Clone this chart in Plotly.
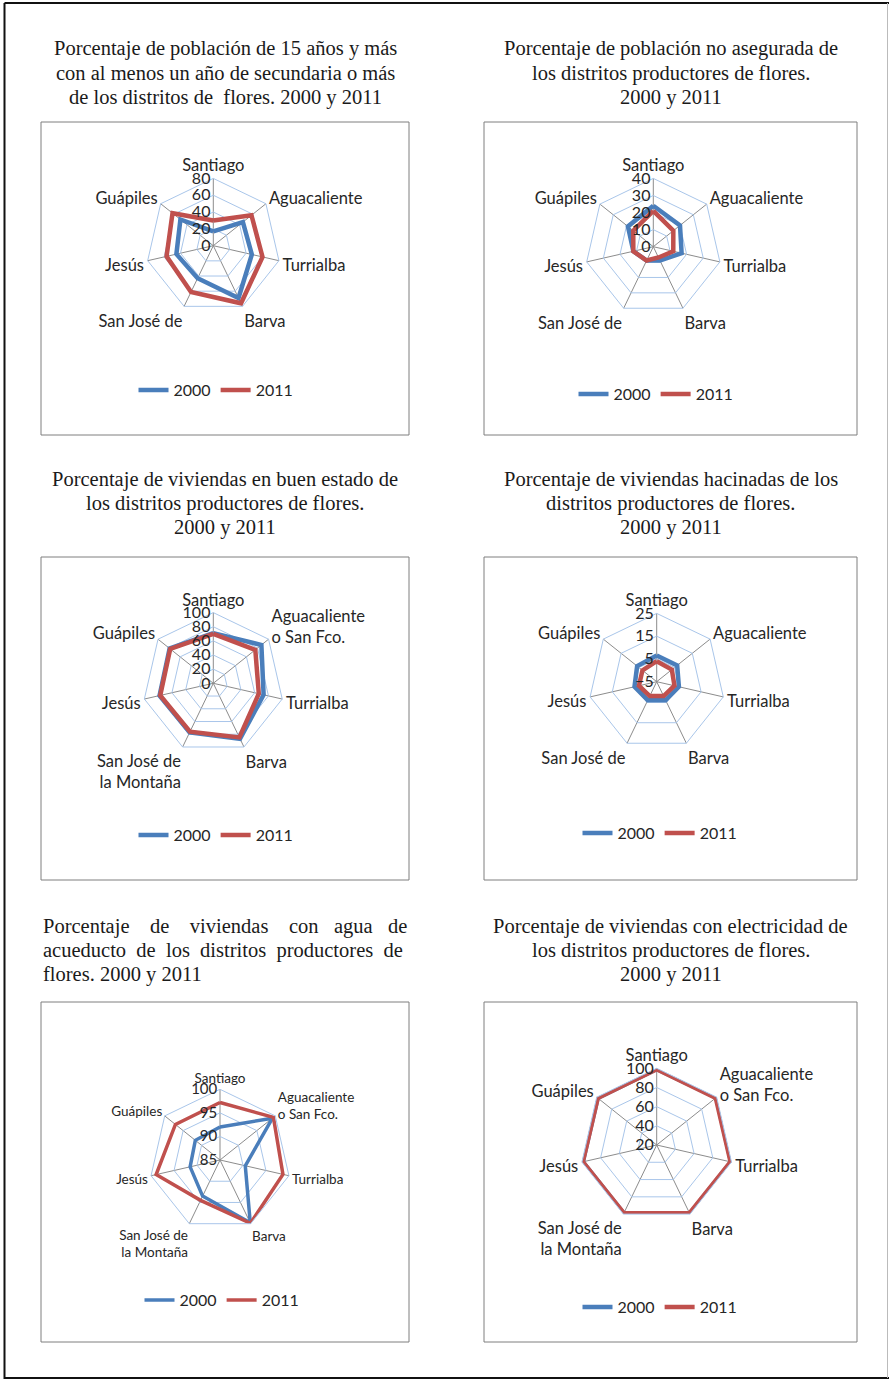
import plotly.graph_objects as go

W, H = 889, 1379

# ---------------- data ----------------
cats_short = ["Santiago", "Aguacaliente", "Turrialba", "Barva", "San José de", "Jesús", "Guápiles"]
cats_long = ["Santiago", "Aguacaliente<br>o San Fco.", "Turrialba", "Barva",
             "San José de<br>la Montaña", "Jesús", "Guápiles"]
years = ["2000", "2011"]

secundaria_2000 = [17, 45, 47, 69, 43, 45, 50]
secundaria_2011 = [30, 58, 60, 76, 61, 57, 62]
no_asegurada_2000 = [24, 20, 17, 9, 9, 12, 19]
no_asegurada_2011 = [21, 15, 12, 7, 9, 12, 15]
buen_estado_2000 = [71, 87, 73, 87, 77, 78, 79]
buen_estado_2011 = [70, 76, 66, 85, 76, 77, 78]
hacinadas_2000 = [6.5, 6.5, 5, 4, 4, 5, 6]
hacinadas_2011 = [4, 3.5, 3, 2, 2, 3, 3]
acueducto_2000 = [92, 99.2, 90.5, 99.8, 93.5, 91.5, 91.7]
acueducto_2011 = [97.2, 99.5, 98.7, 99.9, 94.5, 98.9, 97.1]
electricidad_2000 = [99.3, 99.6, 99.6, 99.5, 99.2, 99.1, 98.8]
electricidad_2011 = [99.0, 98.8, 99.0, 99.0, 99.0, 99.0, 98.6]

titles = [
    ["Porcentaje de población de 15 años y más",
     "con al menos un año de secundaria o más",
     "de los distritos de  flores. 2000 y 2011"],
    ["Porcentaje de población no asegurada de",
     "los distritos productores de flores.",
     "2000 y 2011"],
    ["Porcentaje de viviendas en buen estado de",
     "los distritos productores de flores.",
     "2000 y 2011"],
    ["Porcentaje de viviendas hacinadas de los",
     "distritos productores de flores.",
     "2000 y 2011"],
    ["Porcentaje    de    viviendas    con   agua   de",
     "acueducto  de  los  distritos  productores  de",
     "flores. 2000 y 2011"],
    ["Porcentaje de viviendas con electricidad de",
     "los distritos productores de flores.",
     "2000 y 2011"],
]

# ---------------- layout config ----------------
BLUE = "#4A7EBB"
RED = "#C0504D"
RING = "#A9C6EA"
SPOKE = "#8C8C8C"
SANS = "Lato"
SERIF = "Liberation Serif"

panels = [
    dict(cats=cats_short, s=(secundaria_2000, secundaria_2011), rng=[0, 80], tick0=0, dtick=20,
         c=(213.3, 245.7), R=67.3, box=(41, 122, 409, 435), leg=(216, 390), title_y=(48, 73, 97),
         fs=16.5, rfs=16, lw=4.5, align="center"),
    dict(cats=cats_short, s=(no_asegurada_2000, no_asegurada_2011), rng=[0, 40], tick0=0, dtick=10,
         c=(653.3, 246.7), R=68.3, box=(484, 122, 857, 435), leg=(656, 394), title_y=(48, 73, 97),
         fs=16.5, rfs=16, lw=4.5, align="center"),
    dict(cats=cats_long, s=(buen_estado_2000, buen_estado_2011), rng=[0, 100], tick0=0, dtick=20,
         c=(213.3, 683.3), R=70.7, box=(41, 557, 409, 880), leg=(216, 835), title_y=(479, 503, 527),
         fs=16.5, rfs=16, lw=4.5, align="center"),
    dict(cats=cats_short, s=(hacinadas_2000, hacinadas_2011), rng=[-5, 25], tick0=-5, dtick=10,
         c=(656.7, 681.7), R=68.3, box=(484, 557, 857, 880), leg=(660, 833), title_y=(479, 503, 527),
         fs=16.5, rfs=16, lw=4.5, align="center"),
    dict(cats=cats_long, s=(acueducto_2000, acueducto_2011), rng=[85, 100], tick0=85, dtick=5,
         c=(220.0, 1160.0), R=70.7, box=(41, 1002, 409, 1342), leg=(222, 1300), title_y=(926, 950, 974),
         fs=13.5, rfs=15, lw=3.5, align="left"),
    dict(cats=cats_long, s=(electricidad_2000, electricidad_2011), rng=[20, 100], tick0=20, dtick=20,
         c=(656.7, 1145.0), R=76.7, box=(484, 1002, 857, 1342), leg=(660, 1307), title_y=(926, 950, 974),
         fs=16.5, rfs=16, lw=4.5, align="center"),
]

fig = go.Figure()
layout = dict(width=W, height=H, margin=dict(l=0, r=0, t=0, b=0),
              paper_bgcolor="white", plot_bgcolor="white", showlegend=True)
shapes = []
annotations = []

for i, p in enumerate(panels):
    pname = "polar" if i == 0 else f"polar{i+1}"
    lname = "legend" if i == 0 else f"legend{i+1}"
    cats = p["cats"]
    for year, vals, col in zip(years, p["s"], (BLUE, RED)):
        fig.add_trace(go.Scatterpolar(
            r=list(vals) + [vals[0]], theta=list(cats) + [cats[0]],
            mode="lines", name=year, line=dict(color=col, width=p["lw"]),
            subplot=pname, legend=lname, hoverinfo="skip"))
    cx, cy = p["c"]
    R = p["R"]
    layout[pname] = dict(
        domain=dict(x=[(cx - R) / W, (cx + R) / W], y=[1 - (cy + R) / H, 1 - (cy - R) / H]),
        bgcolor="white", gridshape="linear",
        angularaxis=dict(direction="clockwise", rotation=90, type="category", categoryarray=cats,
                         gridcolor=SPOKE, gridwidth=1, showline=True, linecolor=RING, linewidth=1,
                         ticks="", tickfont=dict(family=SANS, size=p["fs"], color="#262626")),
        radialaxis=dict(range=p["rng"], tick0=p["tick0"], dtick=p["dtick"], angle=90,
                        side="counterclockwise", tickangle=90, showline=False, ticks="",
                        gridcolor=RING, gridwidth=1,
                        tickfont=dict(family=SANS, size=p["rfs"], color="#262626")),
    )
    lx, ly = p["leg"]
    layout[lname] = dict(x=lx / W, y=1 - ly / H, xanchor="center", yanchor="middle",
                         orientation="h", bgcolor="rgba(0,0,0,0)",
                         font=dict(family=SANS, size=16, color="#262626"))
    x0, y0, x1, y1 = p["box"]
    shapes.append(dict(type="rect", xref="paper", yref="paper",
                       x0=x0 / W, x1=x1 / W, y0=1 - y1 / H, y1=1 - y0 / H,
                       line=dict(color="#7F7F7F", width=1), fillcolor="rgba(0,0,0,0)", layer="below"))
    for line, ty in zip(titles[i], p["title_y"]):
        if p["align"] == "center":
            ax, anchor = (x0 + x1) / 2 / W, "center"
        else:
            ax, anchor = x0 / W, "left"
        annotations.append(dict(text=line.replace("  ", "&nbsp;&nbsp;"), x=ax, y=1 - ty / H,
                                xref="paper", yref="paper", xanchor=anchor, yanchor="middle",
                                showarrow=False, font=dict(family=SERIF, size=20.5, color="#1a1a1a")))

# outer page frame
shapes += [
    dict(type="line", xref="paper", yref="paper", x0=4.5 / W, x1=4.5 / W, y0=0, y1=1 - 3 / H,
         line=dict(color="#111111", width=2)),
    dict(type="line", xref="paper", yref="paper", x0=4.5 / W, x1=1, y0=1 - 3 / H, y1=1 - 3 / H,
         line=dict(color="#111111", width=2)),
    dict(type="line", xref="paper", yref="paper", x0=4.5 / W, x1=1, y0=1 - 1378 / H, y1=1 - 1378 / H,
         line=dict(color="#111111", width=2)),
    dict(type="line", xref="paper", yref="paper", x0=887.5 / W, x1=887.5 / W, y0=1 - 1378 / H, y1=1 - 3 / H,
         line=dict(color="#BBBBBB", width=1)),
]
layout["shapes"] = shapes
layout["annotations"] = annotations
fig.update_layout(**layout)
fig.write_html("out.html", config={"displayModeBar": False},
               post_script="document.body.style.margin='0';document.body.style.overflow='hidden';")
